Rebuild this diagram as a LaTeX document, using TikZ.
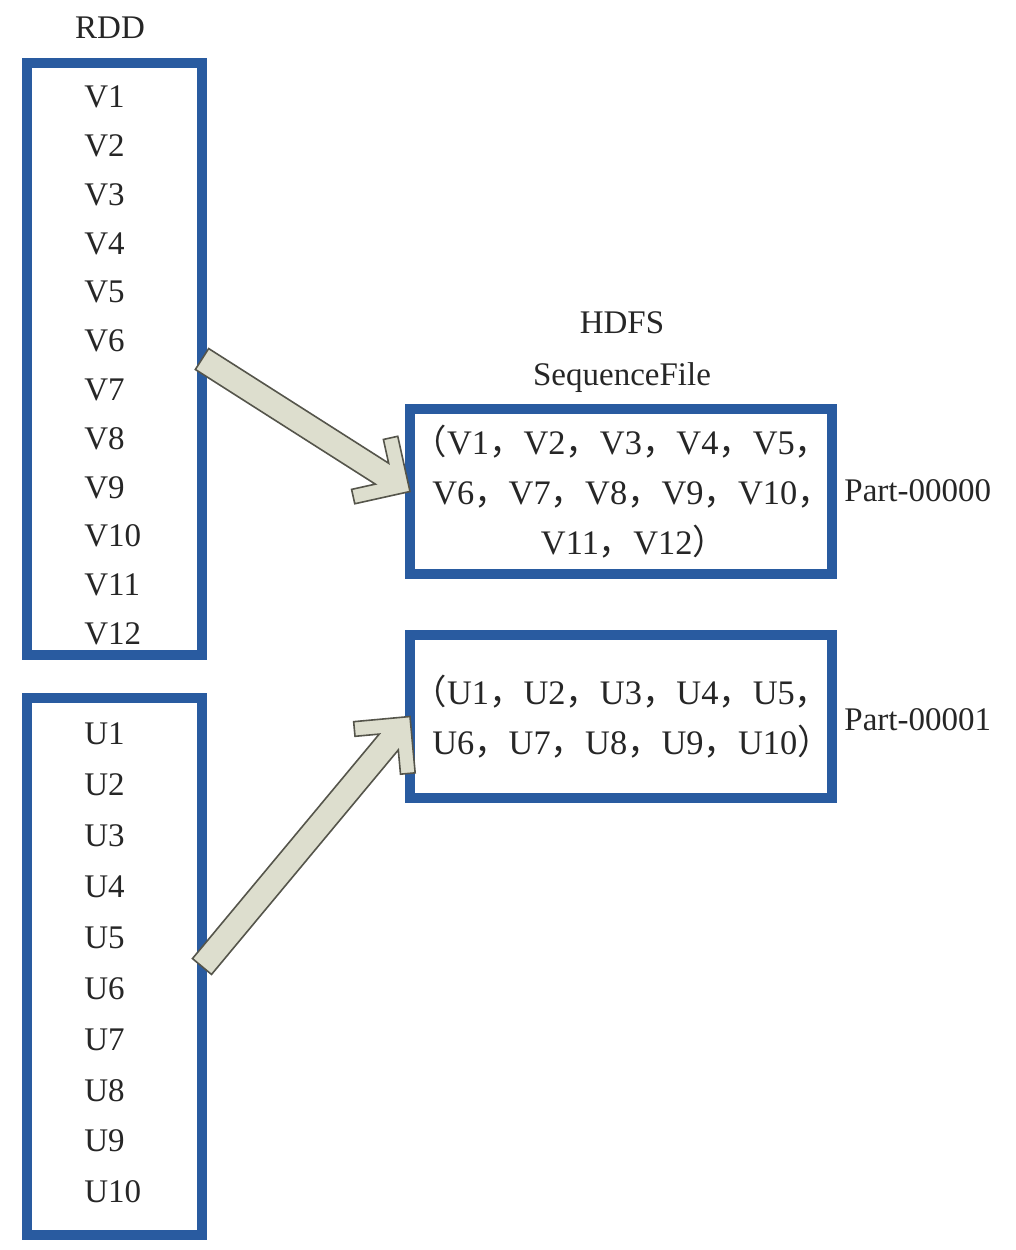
\documentclass[tikz,border=0pt]{standalone}
\usepackage{fontspec}
\setmainfont{Liberation Serif}
\newfontfamily\cjk{Noto Sans CJK SC}
\usetikzlibrary{calc}

\definecolor{boxblue}{RGB}{41,91,160}
\definecolor{arrowfill}{RGB}{221,222,206}
\definecolor{arrowline}{RGB}{85,85,75}

\newcommand{\zlp}{{\cjk （}}
\newcommand{\zrp}{{\cjk ）}}
\newcommand{\zcomma}{{\cjk ，}}

\tikzset{
	databox/.style={draw=boxblue,line width=5pt,fill=white,inner sep=0,outer sep=0,text=black!85,align=center,font=\fontsize{17.2}{25}\selectfont},
	item/.style={anchor=west,inner sep=0,text=black!85,font=\fontsize{16.5}{19}\selectfont},
	tag/.style={inner sep=0,text=black!85,font=\fontsize{16.5}{19}\selectfont},
	blockarrow/.style={fill=arrowfill,draw=arrowline,line width=0.8pt,line join=miter}
}

% block arrow from #1 to #2
\newcommand{\flowarrow}[2]{%
	\draw[blockarrow] let \p1=(#1), \p2=(#2), \n1={atan2(\y2-\y1,\x2-\x1)}, \n2={veclen(\x2-\x1,\y2-\y1)} in
		[shift={(\p2)},rotate=\n1]
		(0pt,0pt) -- (-20pt,20pt) -- (-25.2pt,14.8pt) -- (-16.6pt,6.2pt) -- ({-\n2*1pt},6.2pt)
		-- ({-\n2*1pt},-6.2pt) -- (-16.6pt,-6.2pt) -- (-25.2pt,-14.8pt) -- (-20pt,-20pt) -- cycle;}

\begin{document}
\begin{tikzpicture}[x=0.5pt,y=-0.5pt]
	\useasboundingbox (0,0) rectangle (1016,1250);
	\node[databox,minimum width=87.5pt,minimum height=296pt] (vbox) at (114.5,359) {};
	\node[databox,minimum width=87.5pt,minimum height=268.5pt] (ubox) at (114.5,966.5) {};
	\node[databox,text width=211pt,minimum height=82.5pt] (part0) at (621,491.5)
		{\zlp V1\zcomma V2\zcomma V3\zcomma V4\zcomma V5\zcomma\\
		\hspace*{11pt}V6\zcomma V7\zcomma V8\zcomma V9\zcomma V10\zcomma\\
		\hspace*{13pt}V11\zcomma V12\zrp};
	\node[databox,text width=211pt,minimum height=81.5pt] (part1) at (621,716.5)
		{\zlp U1\zcomma U2\zcomma U3\zcomma U4\zcomma U5\zcomma\\
		\hspace*{11pt}U6\zcomma U7\zcomma U8\zcomma U9\zcomma U10\zrp};
	\foreach \i in {1,...,12}
		\node[item] (v\i) at (84,{97+48.8*(\i-1)}) {V\i};
	\foreach \i in {1,...,10}
		\node[item] (u\i) at (84,{734+50.9*(\i-1)}) {U\i};
	\node[tag,anchor=base] (rdd) at (110,38.5) {RDD};
	\node[tag,anchor=base] (hdfs) at (622,333.5) {HDFS};
	\node[tag,anchor=base] (seqfile) at (622,385.5) {SequenceFile};
	\node[tag,anchor=base west] (name0) at (844,501.5) {Part-00000};
	\node[tag,anchor=base west] (name1) at (844,730.5) {Part-00001};
	\flowarrow{vbox.east}{part0.west}
	\flowarrow{ubox.east}{part1.west}
\end{tikzpicture}
\end{document}
